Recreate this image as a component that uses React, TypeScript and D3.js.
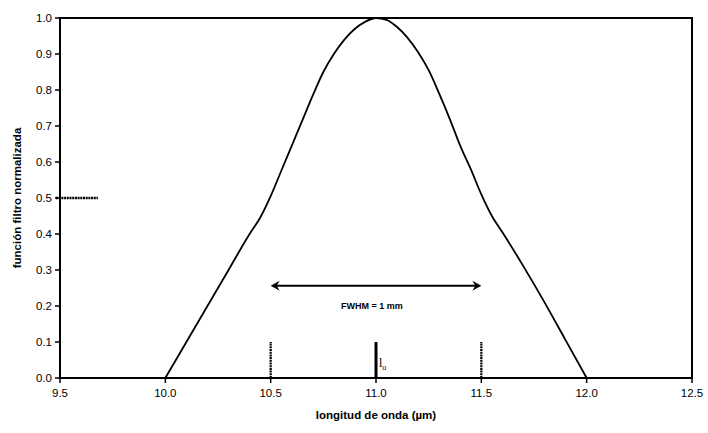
import React from "react";
import * as d3 from "d3";

const curveX = [10.0, 10.1, 10.2, 10.3, 10.4, 10.45, 10.5, 10.55, 10.6, 10.65, 10.7, 10.75, 10.8, 10.85, 10.9, 10.95, 11.0, 11.05, 11.1, 11.15, 11.2, 11.25, 11.3, 11.35, 11.4, 11.45, 11.5, 11.55, 11.6, 11.7, 11.8, 11.9, 12.0];
const curveY = [0, 0.1, 0.2, 0.3, 0.4, 0.445, 0.505, 0.575, 0.645, 0.715, 0.785, 0.85, 0.9, 0.94, 0.97, 0.99, 1.0, 0.995, 0.975, 0.945, 0.905, 0.855, 0.79, 0.72, 0.645, 0.58, 0.51, 0.45, 0.405, 0.31, 0.21, 0.105, 0.0];
const markerX = [10.5, 11.0, 11.5];
const markerTop = 0.1;
const halfLineX = [9.5, 9.68];
const halfLineY = 0.5;
const arrowX = [10.5, 11.5];
const arrowY = 0.256;
const xTicks = [9.5, 10.0, 10.5, 11.0, 11.5, 12.0, 12.5];
const yTicks = [0, 0.1, 0.2, 0.3, 0.4, 0.5, 0.6, 0.7, 0.8, 0.9, 1.0];

export default function App() {
  const W = 708, H = 433;
  const x = d3.scaleLinear().domain([9.5, 12.5]).range([60, 692]);
  const y = d3.scaleLinear().domain([0, 1]).range([378, 18]);
  const pts: [number, number][] = curveX.map((v, i) => [v, curveY[i]]);
  const line = d3.line<[number, number]>().x(d => x(d[0])).y(d => y(d[1])).curve(d3.curveMonotoneX);
  const font = "'Liberation Sans', Arial, sans-serif";
  const ax0 = x(arrowX[0]), ax1 = x(arrowX[1]), ay = y(arrowY);
  return (
    <svg width={W} height={H} style={{ position: "absolute", left: 0, top: 0 }}>
      <rect width={W} height={H} fill="#fff" />
      <rect x={x(9.5)} y={y(1)} width={x(12.5) - x(9.5)} height={y(0) - y(1)} fill="none" stroke="#000" strokeWidth={2} />
      {yTicks.map(t => (
        <g key={"y" + t}>
          <line x1={x(9.5) - 5} x2={x(9.5)} y1={y(t)} y2={y(t)} stroke="#000" strokeWidth={1.5} />
          <text x={x(9.5) - 8} y={y(t)} dy="0.35em" textAnchor="end" fontFamily={font} fontSize={11.5}>{t.toFixed(1)}</text>
        </g>
      ))}
      {xTicks.map(t => (
        <g key={"x" + t}>
          <line x1={x(t)} x2={x(t)} y1={y(0)} y2={y(0) + 5} stroke="#000" strokeWidth={1.5} />
          <text x={x(t)} y={y(0) + 19} textAnchor="middle" fontFamily={font} fontSize={11.5}>{t.toFixed(1)}</text>
        </g>
      ))}
      <path d={line(pts) || ""} fill="none" stroke="#000" strokeWidth={1.8} strokeLinejoin="round" />
      <line x1={x(halfLineX[0]) - 4} x2={x(halfLineX[1])} y1={y(halfLineY)} y2={y(halfLineY)} stroke="#000" strokeWidth={2.5} strokeDasharray="2 0.7" />
      {markerX.map(m => (
        <line key={"m" + m} x1={x(m)} x2={x(m)} y1={y(0)} y2={y(markerTop)} stroke="#000" strokeWidth={m === 11.0 ? 3 : 2.2} strokeDasharray={m === 11.0 ? undefined : "2 0.7"} />
      ))}
      <line x1={ax0 + 3} x2={ax1 - 3} y1={ay} y2={ay} stroke="#000" strokeWidth={2} />
      <path d={`M${ax0},${ay} L${ax0 + 9},${ay - 5} L${ax0 + 6},${ay} L${ax0 + 9},${ay + 5} Z`} fill="#000" />
      <path d={`M${ax1},${ay} L${ax1 - 9},${ay - 5} L${ax1 - 6},${ay} L${ax1 - 9},${ay + 5} Z`} fill="#000" />
      <text x={(ax0 + ax1) / 2 - 4} y={ay + 23} textAnchor="middle" fontFamily={font} fontSize={9} fontWeight="bold">FWHM = 1 mm</text>
      <text x={x(11.0) + 3} y={y(0) - 11} fontFamily="'Liberation Serif', serif" fontSize={12}>l<tspan fontSize={8} dy={3}>o</tspan></text>
      <text x={376} y={419} textAnchor="middle" fontFamily={font} fontSize={11.5} fontWeight="bold">longitud de onda (µm)</text>
      <text transform={`translate(21,${y(0.5)}) rotate(-90)`} textAnchor="middle" fontFamily={font} fontSize={11.5} fontWeight="bold">función filtro normalizada</text>
    </svg>
  );
}
